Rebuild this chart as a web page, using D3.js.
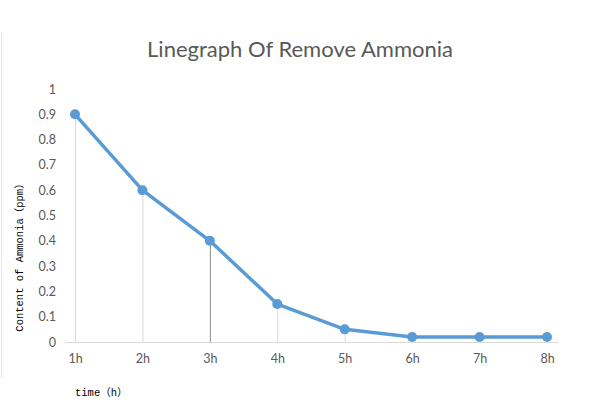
<!DOCTYPE html>
<html><head><meta charset="utf-8">
<script src="https://cdn.jsdelivr.net/npm/d3@7"></script>
<style>body{margin:0;background:#fff}svg{display:block}</style>
</head><body>
<svg id="c" width="600" height="412"></svg>
<script>
const categories = ["1h","2h","3h","4h","5h","6h","7h","8h"];
const values = [0.9, 0.6, 0.4, 0.15, 0.05, 0.02, 0.02, 0.02];
const yTicks = [0,0.1,0.2,0.3,0.4,0.5,0.6,0.7,0.8,0.9,1];
const titleText = "Linegraph Of Remove Ammonia";
const yTitleParts = ["Content of Ammonia", "（", "ppm", "）"];
const xTitleParts = ["time", "（", "h", "）"];

const svg = d3.select("#c");
const x = d3.scalePoint().domain(categories).range([75, 547]);
const y = d3.scaleLinear().domain([0,1]).range([342, 89]);
const monoFont = "'Liberation Mono', monospace";
const cjkFont = "'Noto Sans CJK SC', sans-serif";

svg.append("line").attr("x1",1.5).attr("x2",1.5).attr("y1",33).attr("y2",378)
  .attr("stroke","#e6e6e6").attr("stroke-width",1);

svg.append("text").attr("x",300).attr("y",57).attr("text-anchor","middle")
  .attr("font-family","Lato, 'Open Sans', sans-serif").attr("font-size",22)
  .attr("fill","#595959").text(titleText);

svg.append("g").selectAll("line").data(categories).join("line")
  .attr("x1",d=>x(d)+0.5).attr("x2",d=>x(d)+0.5)
  .attr("y1",(d,i)=>y(values[i])).attr("y2",y(0))
  .attr("stroke",(d,i)=>i===2?"#8c8c8c":"#d9d9d9").attr("stroke-width",1);

svg.append("line").attr("x1",65).attr("x2",558).attr("y1",y(0)+0.5).attr("y2",y(0)+0.5)
  .attr("stroke","#d9d9d9").attr("stroke-width",1);

const ya = svg.append("g").attr("transform","translate(56,0)")
  .call(d3.axisLeft(y).tickValues(yTicks).tickSize(0).tickPadding(0).tickFormat(d=>d3.format("~g")(d)));
ya.select(".domain").remove();
ya.selectAll("text").attr("font-family","Lato, 'Open Sans', sans-serif").attr("font-size",12.5).attr("fill","#595959");

const xa = svg.append("g").attr("transform","translate(0,"+(y(0))+")")
  .call(d3.axisBottom(x).tickSize(0).tickPadding(12));
xa.select(".domain").remove();
xa.selectAll("text").attr("font-family","Lato, 'Open Sans', sans-serif").attr("font-size",12.5).attr("fill","#595959");

const line = d3.line().x((d,i)=>x(categories[i])).y(d=>y(d));
svg.append("path").datum(values).attr("d",line).attr("fill","none")
  .attr("stroke","#5B9BD5").attr("stroke-width",3.5).attr("stroke-linejoin","round");

svg.append("g").selectAll("circle").data(values).join("circle")
  .attr("cx",(d,i)=>x(categories[i])).attr("cy",d=>y(d)).attr("r",5)
  .attr("fill","#5B9BD5");

function addParts(t, parts){
  parts.forEach((p,i)=>{
    t.append("tspan").attr("font-family", (i%2===1)?cjkFont:monoFont).text(p);
  });
}
const yt = svg.append("text").attr("transform","translate(23,255) rotate(-90)").attr("text-anchor","middle")
  .attr("font-size",10.5).attr("fill","#000");
addParts(yt, yTitleParts);
const xt = svg.append("text").attr("x",75).attr("y",396).attr("font-size",10.5).attr("fill","#000");
addParts(xt, xTitleParts);
</script>
</body></html>
